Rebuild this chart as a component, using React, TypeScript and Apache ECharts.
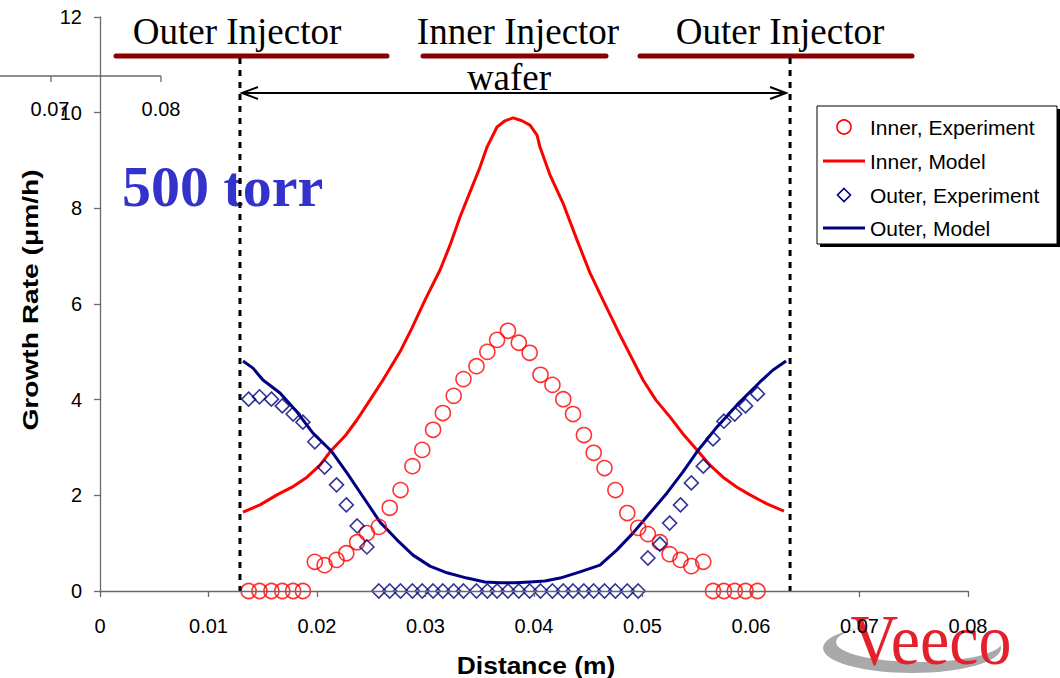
import { useEffect, useRef } from 'react';
import * as echarts from 'echarts';

// Measurement positions across the susceptor (m), shared by both experiment series
const distance = [
  0.0137, 0.0147, 0.0158, 0.0168, 0.0178, 0.0187, 0.0198, 0.0207, 0.0218, 0.0227, 0.0237, 0.0246,
  0.0257, 0.0267, 0.0277, 0.0288, 0.0297, 0.0307, 0.0316, 0.0326, 0.0335, 0.0347, 0.0357, 0.0366,
  0.0376, 0.0386, 0.0396, 0.0406, 0.0417, 0.0427, 0.0436, 0.0446, 0.0455, 0.0465, 0.0475, 0.0486,
  0.0496, 0.0505, 0.0516, 0.0525, 0.0535, 0.0545, 0.0556, 0.0565, 0.0575, 0.0585, 0.0595, 0.0606,
];

// Growth rate (µm/h) measured with the inner injector
const innerExperiment = [
  0, 0, 0, 0, 0, 0, 0.61, 0.54, 0.65, 0.79, 1.02, 1.21,
  1.34, 1.74, 2.11, 2.61, 2.95, 3.37, 3.72, 4.08, 4.43, 4.7, 5.0, 5.25,
  5.44, 5.19, 4.98, 4.52, 4.31, 4.01, 3.7, 3.26, 2.89, 2.57, 2.11, 1.63,
  1.32, 1.19, 1.02, 0.77, 0.65, 0.52, 0.61, 0, 0, 0, 0, 0,
];

// Growth rate (µm/h) measured with the outer injector
const outerExperiment = [
  4.01, 4.06, 4.01, 3.87, 3.7, 3.53, 3.12, 2.59, 2.22, 1.8, 1.36, 0.92,
  0, 0, 0, 0, 0, 0, 0, 0, 0, 0, 0, 0,
  0, 0, 0, 0, 0, 0, 0, 0, 0, 0, 0, 0,
  0, 0.69, 0.98, 1.42, 1.8, 2.26, 2.61, 3.18, 3.55, 3.7, 3.87, 4.12,
];

// Model curve, inner injector
const innerModelDistance = [
  0.01318, 0.01475, 0.01631, 0.0177, 0.01908, 0.02028, 0.0212, 0.02258, 0.02369, 0.02488, 0.02608,
  0.02765, 0.02876, 0.02995, 0.03134, 0.03226, 0.03318, 0.0341, 0.03502, 0.03567, 0.03659, 0.03733,
  0.03806, 0.03889, 0.03963, 0.04028, 0.04055, 0.04147, 0.04267, 0.04396, 0.04516, 0.04636, 0.04793,
  0.05005, 0.05124, 0.05253, 0.05382, 0.05502, 0.05622, 0.05742, 0.05871, 0.05991, 0.06147, 0.06304,
];
const innerModelRate = [
  1.65, 1.8, 2.01, 2.17, 2.38, 2.63, 2.91, 3.24, 3.58, 3.99, 4.41,
  5.0, 5.5, 6.08, 6.71, 7.23, 7.82, 8.34, 8.86, 9.28, 9.7, 9.83,
  9.89, 9.83, 9.74, 9.53, 9.28, 8.7, 8.11, 7.34, 6.65, 6.08, 5.35,
  4.41, 3.99, 3.64, 3.26, 2.95, 2.63, 2.38, 2.17, 2.01, 1.82, 1.67,
];

// Model curve, outer injector
const outerModelDistance = [
  0.01318, 0.0141, 0.01502, 0.01659, 0.01816, 0.01963, 0.02138, 0.02276, 0.02424, 0.02581, 0.02737,
  0.02885, 0.03041, 0.03198, 0.03382, 0.03548, 0.03687, 0.03825, 0.03963, 0.04101, 0.0424, 0.04424,
  0.04608, 0.04765, 0.04912, 0.05069, 0.05226, 0.05373, 0.05502, 0.05687, 0.05871, 0.06083, 0.06203,
  0.06323,
];
const outerModelRate = [
  4.81, 4.66, 4.41, 4.14, 3.74, 3.3, 2.91, 2.47, 1.97, 1.44, 1.07,
  0.75, 0.52, 0.38, 0.27, 0.19, 0.17, 0.17, 0.19, 0.21, 0.27, 0.4,
  0.54, 0.86, 1.21, 1.63, 2.05, 2.49, 2.91, 3.43, 3.89, 4.37, 4.62,
  4.81,
];

// Wafer edges (m)
const waferEdges = [0.0129, 0.0636];

const xTicks = { min: 0, max: 0.08, interval: 0.01 };
const yTicks = { min: 0, max: 12, interval: 2 };

const seriesNames = ['Inner, Experiment', 'Inner, Model', 'Outer, Experiment', 'Outer, Model'];

const RED = '#ff0000';
const NAVY = '#000080';

const SANS = '"Liberation Sans", Arial, sans-serif';
const SERIF = '"Liberation Serif", "Times New Roman", serif';

const pairs = (xs: number[], ys: number[]) => xs.map((x, i) => [x, ys[i]]);

export default function App() {
  const ref = useRef<HTMLDivElement>(null);

  useEffect(() => {
    document.body.style.margin = '0';
    if (!ref.current) return;
    const chart = echarts.init(ref.current, null, { renderer: 'svg' });

    const axisGray = '#6a6a6a';

    chart.setOption({
      animation: false,
      backgroundColor: '#ffffff',
      grid: { left: 100, right: 92, top: 17, bottom: 87, containLabel: false },
      xAxis: {
        type: 'value',
        ...xTicks,
        z: 10,
        axisLine: { lineStyle: { color: axisGray, width: 1.3 } },
        axisTick: { inside: false, length: 6, lineStyle: { color: axisGray, width: 1.3 } },
        splitLine: { show: false },
        axisLabel: {
          fontFamily: SANS,
          fontSize: 20,
          color: '#000',
          margin: 25,
          formatter: (v: number) => (v === 0 ? '0' : v.toFixed(2)),
        },
      },
      yAxis: {
        type: 'value',
        ...yTicks,
        axisLine: { show: true, lineStyle: { color: axisGray, width: 1.3 } },
        axisTick: { show: true, inside: false, length: 6, lineStyle: { color: axisGray, width: 1.3 } },
        splitLine: { show: false },
        axisLabel: { fontFamily: SANS, fontSize: 20, color: '#000', margin: 18 },
      },
      legend: { show: false, data: seriesNames },
      series: [
        {
          name: seriesNames[1],
          type: 'line',
          data: pairs(innerModelDistance, innerModelRate),
          symbol: 'none',
          clip: false,
          lineStyle: { color: RED, width: 3 },
          itemStyle: { color: RED },
          z: 2,
        },
        {
          name: seriesNames[3],
          type: 'line',
          data: pairs(outerModelDistance, outerModelRate),
          symbol: 'none',
          clip: false,
          lineStyle: { color: NAVY, width: 3 },
          itemStyle: { color: NAVY },
          z: 2,
        },
        {
          name: seriesNames[0],
          type: 'scatter',
          data: pairs(distance, innerExperiment),
          symbol: 'circle',
          symbolSize: 15,
          clip: false,
          itemStyle: { color: 'rgba(0,0,0,0)', borderColor: RED, borderWidth: 1.6 },
          z: 3,
        },
        {
          name: seriesNames[2],
          type: 'scatter',
          data: pairs(distance, outerExperiment),
          symbol: 'diamond',
          symbolSize: 14,
          clip: false,
          itemStyle: { color: 'rgba(0,0,0,0)', borderColor: NAVY, borderWidth: 1.6 },
          z: 3,
        },
      ],
    });

    // Annotations tied to the wafer edges
    const [xl] = chart.convertToPixel({ gridIndex: 0 }, [waferEdges[0], 0]) as number[];
    const [xr, y0] = chart.convertToPixel({ gridIndex: 0 }, [waferEdges[1], 0]) as number[];
    const arrowY = 93;
    const head = 16;
    const half = 6;

    const black = '#000';
    const darkRed = '#880000';

    // Legend box drawn by hand: symbol / line keys with a drop shadow
    const lgX = 817;
    const lgY = 106;
    const lgW = 240;
    const lgH = 138;
    const rowY = [127, 161, 195, 228];
    const keyX = 844;
    const textX = 870;
    const legendText = (i: number) => ({
      type: 'text',
      z: 21,
      x: textX,
      y: rowY[i],
      style: { text: seriesNames[i], fontFamily: SANS, fontSize: 21, fill: black, align: 'left', verticalAlign: 'middle' },
    });
    const d = 6.5;

    chart.setOption({
      graphic: [
        // stray axis fragment in the upper-left corner
        { type: 'line', shape: { x1: 0, y1: 76, x2: 161, y2: 76 }, style: { stroke: axisGray, lineWidth: 1.3 } },
        { type: 'line', shape: { x1: 51, y1: 76, x2: 51, y2: 82 }, style: { stroke: axisGray, lineWidth: 1.3 } },
        { type: 'line', shape: { x1: 161, y1: 76, x2: 161, y2: 82 }, style: { stroke: axisGray, lineWidth: 1.3 } },
        { type: 'text', x: 50, y: 109, style: { text: '0.07', fontFamily: SANS, fontSize: 20, fill: black, align: 'center', verticalAlign: 'middle' } },
        { type: 'text', x: 161, y: 109, style: { text: '0.08', fontFamily: SANS, fontSize: 20, fill: black, align: 'center', verticalAlign: 'middle' } },

        // injector zones
        { type: 'line', shape: { x1: 116, y1: 56, x2: 387, y2: 56 }, style: { stroke: darkRed, lineWidth: 5, lineCap: 'round' } },
        { type: 'line', shape: { x1: 423, y1: 56, x2: 606, y2: 56 }, style: { stroke: darkRed, lineWidth: 5, lineCap: 'round' } },
        { type: 'line', shape: { x1: 640, y1: 56, x2: 912, y2: 56 }, style: { stroke: darkRed, lineWidth: 5, lineCap: 'round' } },
        { type: 'text', x: 237, y: 31, style: { text: 'Outer Injector', fontFamily: SERIF, fontSize: 37, fill: black, align: 'center', verticalAlign: 'middle' } },
        { type: 'text', x: 518, y: 31, style: { text: 'Inner Injector', fontFamily: SERIF, fontSize: 37, fill: black, align: 'center', verticalAlign: 'middle' } },
        { type: 'text', x: 780, y: 31, style: { text: 'Outer Injector', fontFamily: SERIF, fontSize: 37, fill: black, align: 'center', verticalAlign: 'middle' } },

        // wafer edges and span
        { type: 'line', z: 5, shape: { x1: xl, y1: 58, x2: xl, y2: y0 }, style: { stroke: black, lineWidth: 3, lineDash: [6, 6] } },
        { type: 'line', z: 5, shape: { x1: xr, y1: 58, x2: xr, y2: y0 }, style: { stroke: black, lineWidth: 3, lineDash: [6, 6] } },
        { type: 'line', shape: { x1: xl + 2, y1: arrowY, x2: xr - 4, y2: arrowY }, style: { stroke: black, lineWidth: 2 } },
        {
          type: 'polyline',
          shape: { points: [[xl + 2 + head, arrowY - half], [xl + 2, arrowY], [xl + 2 + head, arrowY + half]] },
          style: { stroke: black, lineWidth: 2, fill: 'none' },
        },
        {
          type: 'polyline',
          shape: { points: [[xr - 4 - head, arrowY - half], [xr - 4, arrowY], [xr - 4 - head, arrowY + half]] },
          style: { stroke: black, lineWidth: 2, fill: 'none' },
        },
        { type: 'text', x: 509, y: 77, style: { text: 'wafer', fontFamily: SERIF, fontSize: 37, fill: black, align: 'center', verticalAlign: 'middle' } },

        // pressure label
        { type: 'text', x: 122, y: 186, style: { text: '500 torr', fontFamily: SERIF, fontSize: 58, fontWeight: 'bold', fill: '#3333cc', align: 'left', verticalAlign: 'middle' } },

        // axis titles
        { type: 'text', x: 536, y: 665, scaleX: 1.1, style: { text: 'Distance (m)', fontFamily: SANS, fontSize: 24, fontWeight: 'bold', fill: black, align: 'center', verticalAlign: 'middle' } },
        { type: 'text', x: 30, y: 300, rotation: Math.PI / 2, scaleX: 1.28, style: { text: 'Growth Rate (μm/h)', fontFamily: SANS, fontSize: 22, fontWeight: 'bold', fill: black, align: 'center', verticalAlign: 'middle' } },

        // legend
        { type: 'rect', z: 20, shape: { x: lgX + 3, y: lgY + 3, width: lgW, height: lgH }, style: { fill: black } },
        { type: 'rect', z: 20, shape: { x: lgX, y: lgY, width: lgW, height: lgH }, style: { fill: '#fff', stroke: black, lineWidth: 1 } },
        { type: 'circle', z: 21, shape: { cx: keyX, cy: rowY[0], r: 7 }, style: { fill: 'none', stroke: RED, lineWidth: 1.6 } },
        legendText(0),
        { type: 'line', z: 21, shape: { x1: 823, y1: rowY[1], x2: 865, y2: rowY[1] }, style: { stroke: RED, lineWidth: 3 } },
        legendText(1),
        {
          type: 'polygon',
          z: 21,
          shape: { points: [[keyX, rowY[2] - d], [keyX + d, rowY[2]], [keyX, rowY[2] + d], [keyX - d, rowY[2]]] },
          style: { fill: 'none', stroke: NAVY, lineWidth: 1.6 },
        },
        legendText(2),
        { type: 'line', z: 21, shape: { x1: 823, y1: rowY[3], x2: 865, y2: rowY[3] }, style: { stroke: NAVY, lineWidth: 3 } },
        legendText(3),

        // logo
        { type: 'ellipse', z: 1, shape: { cx: 912, cy: 648, rx: 89, ry: 25 }, style: { fill: '#a9a9ab' } },
        { type: 'ellipse', z: 1, shape: { cx: 919, cy: 642, rx: 83, ry: 20 }, style: { fill: '#ffffff' } },
        { type: 'text', z: 2, x: 931, y: 640, scaleY: 1.08, style: { text: 'Veeco', fontFamily: SERIF, fontSize: 66, fill: '#e3202c', align: 'center', verticalAlign: 'middle' } },
      ],
    });

    return () => chart.dispose();
  }, []);

  return <div ref={ref} style={{ width: 1060, height: 678 }} />;
}
